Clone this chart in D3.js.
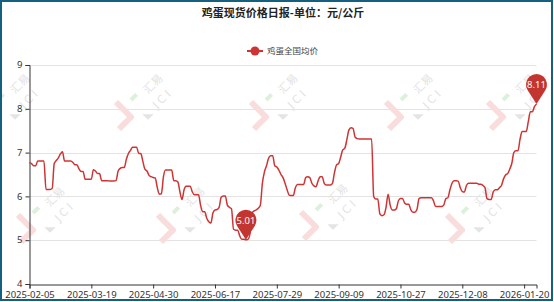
<!DOCTYPE html>
<html>
<head>
<meta charset="utf-8">
<script src="https://cdn.jsdelivr.net/npm/d3@7"></script>
<style>
  body { margin: 0; background: #fff; }
  svg { display: block; }
</style>
</head>
<body>
<svg id="chart" width="554" height="302"></svg>
<script>
const chartTitle = "鸡蛋现货价格日报-单位：元/公斤";
const seriesName = "鸡蛋全国均价";

// one label every 30 trading days (category axis)
const tickLabels = ["2025-02-05", "2025-03-19", "2025-04-30", "2025-06-17", "2025-07-29",
                    "2025-09-09", "2025-10-27", "2025-12-08", "2026-01-20"];
const labelEvery = 30;
const yTicks = [4, 5, 6, 7, 8, 9];

// daily national average price
const prices = [
  6.77,6.75,6.70,6.70,6.81,6.81,6.81,6.81,6.16,6.16,
  6.16,6.18,6.75,6.82,6.88,6.97,7.02,6.81,6.81,6.81,
  6.81,6.78,6.72,6.72,6.63,6.57,6.57,6.39,6.39,6.39,
  6.39,6.61,6.58,6.52,6.52,6.36,6.36,6.36,6.36,6.35,
  6.35,6.35,6.36,6.58,6.64,6.66,6.66,6.85,6.98,7.05,
  7.12,7.12,7.12,6.98,6.98,6.80,6.62,6.58,6.48,6.45,
  6.43,6.42,6.20,6.05,6.06,6.45,6.60,6.60,6.60,6.60,
  6.36,6.36,6.33,6.10,5.93,6.15,6.23,6.23,6.23,6.10,
  6.04,6.04,6.04,5.80,5.65,5.65,5.50,5.42,5.39,5.62,
  5.69,5.70,5.75,5.98,6.01,6.01,5.80,5.75,5.72,5.25,
  5.23,5.23,5.10,5.02,5.02,5.01,5.02,5.15,5.62,5.67,
  5.69,5.73,5.80,6.30,6.56,6.70,6.87,6.93,6.93,6.70,
  6.67,6.60,6.50,6.43,6.30,6.15,6.03,6.02,6.02,6.20,
  6.27,6.27,6.27,6.27,6.43,6.45,6.43,6.30,6.24,6.22,
  6.35,6.45,6.45,6.30,6.26,6.26,6.26,6.30,6.55,6.72,
  6.75,6.90,7.06,7.10,7.30,7.52,7.57,7.55,7.35,7.32,
  7.31,7.31,7.31,7.31,7.31,7.31,7.31,6.00,5.94,5.94,
  5.60,5.56,5.58,5.75,6.05,5.80,5.69,5.69,5.72,5.90,
  5.95,5.95,5.85,5.82,5.82,5.70,5.64,5.64,5.70,5.95,
  5.97,5.97,5.97,5.97,5.97,5.97,5.90,5.77,5.77,5.77,
  5.77,5.80,5.95,5.97,6.15,6.30,6.36,6.36,6.35,6.20,
  6.11,6.10,6.25,6.30,6.30,6.30,6.30,6.30,6.28,6.28,
  6.25,6.20,5.95,5.93,5.93,6.10,6.15,6.15,6.20,6.25,
  6.40,6.49,6.52,6.62,6.75,7.00,7.04,7.04,7.30,7.48,
  7.48,7.48,7.70,7.93,7.93,8.05,8.11
];

const lineColor = "#cf3434";
const pinColor = "#c23531";
const axisColor = "#333";

const svg = d3.select("#chart");
const width = 554, height = 302;

svg.append("rect")
  .attr("width", width).attr("height", height)
  .attr("fill", "#fff");

const x = d3.scalePoint()
  .domain(d3.range(prices.length))
  .range([29.5, 536.5]);

const y = d3.scaleLinear()
  .domain([4, 9])
  .range([284, 65]);

// grid lines
svg.append("g")
  .selectAll("line")
  .data(yTicks.slice(1))
  .join("line")
  .attr("x1", 29.5).attr("x2", 536.5)
  .attr("y1", d => Math.round(y(d)) + 0.5)
  .attr("y2", d => Math.round(y(d)) + 0.5)
  .attr("stroke", "#e3e3e3")
  .attr("stroke-width", 1);

// watermark logos "汇易 JCI"
const marks = [[15, 100], [148, 100], [283, 100], [418, 100], [520, 100],
               [50, 213], [190, 213], [333, 210], [479, 213]];
const wm = svg.append("g").attr("pointer-events", "none");
marks.forEach(([mx, my]) => {
  const base = wm.append("g").attr("transform", `translate(${mx},${my})`);
  // red bracket, drawn in screen space
  base.append("path")
    .attr("d", "M-32,2 L-17,17 L-29,29")
    .attr("fill", "none")
    .attr("stroke", "#f9dcdc")
    .attr("stroke-width", 6)
    .attr("stroke-linejoin", "round");
  const g = base.append("g").attr("transform", "rotate(-45)");
  g.append("path")
    .attr("d", "M-12,-12 L-4,-12")
    .attr("stroke", "#dcf0dc")
    .attr("stroke-width", 4);
  g.append("path")
    .attr("d", "M-14,6 L-6,14 L-14,14 Z")
    .attr("fill", "#e4e4e4");
  g.append("text")
    .attr("x", 4).attr("y", -4)
    .attr("font-family", "'Noto Sans CJK SC', sans-serif")
    .attr("font-size", 11)
    .attr("fill", "#e3e3e3")
    .text("汇易");
  g.append("text")
    .attr("x", 0).attr("y", 13)
    .attr("font-family", "'DejaVu Sans', sans-serif")
    .attr("font-size", 11)
    .attr("letter-spacing", 3)
    .attr("fill", "#e3e3e3")
    .text("JCI");
});

// axes
const xAxis = d3.axisBottom(x)
  .tickValues(d3.range(0, prices.length, labelEvery))
  .tickFormat(i => tickLabels[i / labelEvery])
  .tickSize(4)
  .tickPadding(3);

const gx = svg.append("g")
  .attr("transform", "translate(0,284.5)")
  .call(xAxis);
gx.select(".domain").attr("stroke", axisColor);
gx.selectAll(".tick line").attr("stroke", axisColor);
gx.selectAll("text")
  .attr("fill", "#333")
  .attr("font-family", "'Noto Sans', sans-serif")
  .attr("font-size", 9.5);

const yAxis = d3.axisLeft(y)
  .tickValues(yTicks)
  .tickFormat(d3.format("d"))
  .tickSize(4)
  .tickPadding(3);

const gy = svg.append("g")
  .attr("transform", "translate(29.5,0)")
  .call(yAxis);
gy.select(".domain").attr("stroke", axisColor);
gy.selectAll(".tick line").attr("stroke", axisColor);
gy.selectAll("text")
  .attr("fill", "#333")
  .attr("font-family", "'Noto Sans', sans-serif")
  .attr("font-size", 9.5)
  .attr("dy", "0.28em");

// price line
const line = d3.line()
  .x((d, i) => x(i))
  .y(d => y(d))
  .curve(d3.curveMonotoneX);

svg.append("path")
  .datum(prices)
  .attr("d", line)
  .attr("fill", "none")
  .attr("stroke", lineColor)
  .attr("stroke-width", 1.5)
  .attr("stroke-linejoin", "round");

// max / min pins
const pinR = 10.5, pinD = 19.5;
const cosA = pinR / pinD, sinA = Math.sqrt(1 - cosA * cosA);
const tx = pinR * sinA, ty = -pinD + pinR * cosA;
const pinPath = `M0,0 L${-tx},${ty} A${pinR},${pinR} 0 1,1 ${tx},${ty} Z`;

const pins = [d3.maxIndex(prices), d3.minIndex(prices)];
const pg = svg.append("g")
  .selectAll("g")
  .data(pins)
  .join("g")
  .attr("transform", i => `translate(${x(i)},${y(prices[i])})`);
pg.append("path")
  .attr("d", pinPath)
  .attr("fill", pinColor);
pg.append("text")
  .attr("y", -pinD)
  .attr("dy", "0.35em")
  .attr("text-anchor", "middle")
  .attr("fill", "#fff")
  .attr("font-family", "'Noto Sans', sans-serif")
  .attr("font-size", 9.5)
  .text(i => prices[i].toFixed(2));

// legend
const lg = svg.append("g").attr("transform", "translate(255,51)");
lg.append("line")
  .attr("x1", -8).attr("x2", 8)
  .attr("stroke", lineColor).attr("stroke-width", 2);
lg.append("circle")
  .attr("r", 4.5)
  .attr("fill", lineColor);
lg.append("text")
  .attr("x", 12)
  .attr("dy", "0.35em")
  .attr("fill", "#444")
  .attr("font-family", "'Noto Sans CJK SC', sans-serif")
  .attr("font-size", 8.5)
  .text(seriesName);

// title
svg.append("text")
  .attr("x", 283)
  .attr("y", 13)
  .attr("dy", "0.35em")
  .attr("text-anchor", "middle")
  .attr("fill", "#222")
  .attr("font-family", "'Noto Sans CJK SC', sans-serif")
  .attr("font-weight", "bold")
  .attr("font-size", 11)
  .text(chartTitle);

// frame
svg.append("rect")
  .attr("x", 1).attr("y", 1)
  .attr("width", 551).attr("height", 299)
  .attr("fill", "none")
  .attr("stroke", "#16607f")
  .attr("stroke-width", 2);
</script>
</body>
</html>
